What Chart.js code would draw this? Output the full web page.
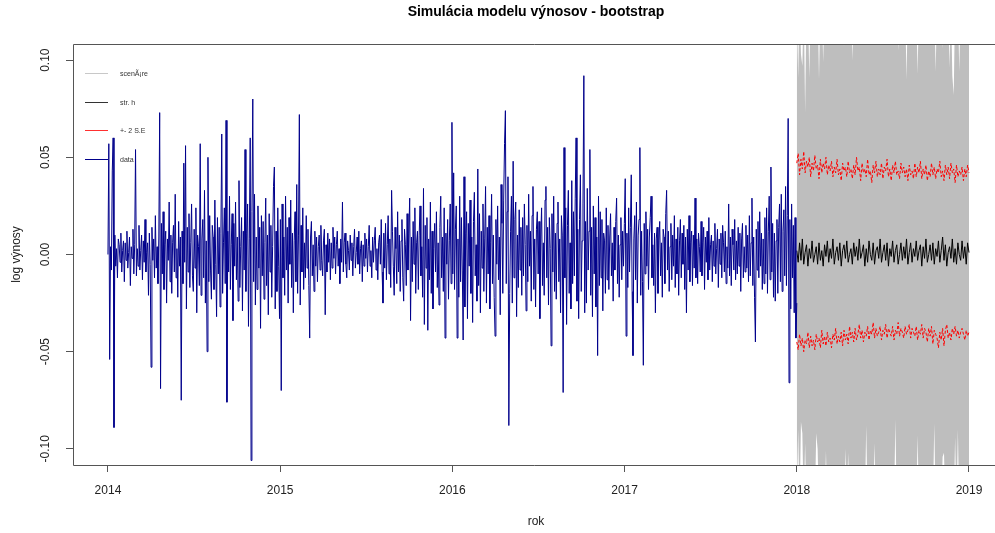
<!DOCTYPE html>
<html>
<head>
<meta charset="utf-8">
<script src="https://cdn.jsdelivr.net/npm/chart.js@4/dist/chart.umd.min.js"></script>
<style>
  html, body { margin: 0; padding: 0; background: #fff; }
</style>
</head>
<body>
<canvas id="chart" width="995" height="533"></canvas>
<script>
// daily log returns 2014-2017, in thousandths
const dataMilli = [
  0, 57, -54, 4, -8, 43, 60, -89, 10, -6, 3, -12, 8, 5, -4, 11, -9, 2, 7, -14,
  6, -3, 12, -7, 1, 9, -16, 4, -2, 13, -10, 5, 54, -11, 3, -6, 15, -8, 2, 10,
  -13, 7, -4, 18, -9, 1, 6, -21, 11, -5, -58, 14, -3, 8, -12, 20, -7, 4, -15, 9,
  73, -69, 16, -10, 22, -18, 5, 12, -25, 8, -3, 27, -14, 10, -20, 6, 15, -9, 31, -12,
  3, -22, 17, -6, 9, -75, 12, -15, 47, -4, 56, -28, 14, -9, 21, -17, 6, 26, -11, -19,
  13, -7, 24, -30, 10, 4, -16, 57, -21, 8, 18, -12, 33, -25, 7, -50, 50, -14, 20, -8,
  -23, 15, 9, -18, 28, -5, -32, 19, -10, 14, -27, 11, 62, -20, 6, 24, -15, 69, -76, 12,
  -9, 30, -18, 5, 21, -34, 16, -6, 27, -13, 9, -24, 38, -17, 4, 19, -29, 12, -8, 54,
  -19, 11, 26, -37, 8, 60, -106, 22, 80, -14, 31, -26, 9, -18, 25, -7, 14, -38, 20, -11,
  17, -23, 6, 29, -16, 10, -31, 21, -9, 15, -22, 4, 35, 45, -28, 12, -19, 24, -6, -33,
  18, -70, 26, -12, 9, -21, 30, -8, 14, -25, 19, -5, 28, -17, 11, -30, 7, 22, -14, 36,
  -20, 10, 72, -26, 15, -9, 24, -18, 6, -12, 20, -7, 13, -16, -43, 9, 17, -11, 5, -19,
  12, -6, 9, -14, 4, 10, -8, 15, -3, -11, 7, 13, -31, 5, -9, 11, -4, 8, -13, 6,
  -7, 14, -2, 9, -10, 5, 12, -6, 3, -15, 8, -4, 27, -9, 6, 11, -5, -12, 7, 2,
  -8, 10, -3, 6, -11, 4, 13, -7, 1, 9, -5, 12, -10, 3, 7, -14, 5, -6, 11, -2,
  8, -9, 4, 15, -6, 2, -12, 9, -4, 7, 14, -8, 3, -13, 6, 10, -5, 18, -9, -25,
  11, -7, 16, -13, 5, 20, -10, 8, -17, 33, 12, -6, -21, 14, 3, -15, 22, -9, 10, -19,
  7, 18, -12, -24, 13, 5, -16, 21, -8, 11, 29, -34, 9, -14, 17, -5, 24, -20, 6, 12,
  -18, 10, 25, -11, 4, -22, 34, -36, 15, -7, 19, -39, 8, -13, 27, -20, 12, -28, 3, 16,
  -9, 22, -17, 6, -26, 14, 30, -12, 9, -19, 24, -43, 11, -5, 18, -23, 7, 26, -15, 68,
  -10, 42, -18, 13, 25, -43, 8, -22, 30, -14, 19, -8, -44, 40, -27, 11, 22, -33, 16, -6,
  28, -20, 9, -35, 17, 32, -11, 5, -24, 44, -16, 21, -30, 12, -7, 26, -19, 8, 35, -25,
  14, -10, 20, -28, 6, 31, -15, 10, -22, -42, 18, -5, 25, -13, 9, -31, 36, 16, -20, 28,
  57, 74, -15, 22, 40, -88, -20, 12, 30, -25, 48, -12, 18, 27, -32, 10, -17, 23, -8, 14,
  -21, 19, -11, 26, 5, -29, 15, -14, 31, -6, 12, -24, 20, 35, -18, 8, -27, 13, 22, -10,
  17, -33, 9, 24, -16, 6, -21, 28, 35, -12, 14, -26, 19, 3, -47, 21, -9, 30, -19, 11,
  -23, 16, 27, -14, 8, -30, 20, 10, -71, 55, -12, 24, -36, 15, 33, -20, 6, -28, 38, -15,
  22, -11, 29, 60, -24, 13, -33, 18, 41, -19, 7, 26, 92, -30, 17, -25, 34, -8, 12, 54,
  -21, 14, -32, 25, -10, 19, -27, 9, -52, 30, -16, 22, -12, 18, -29, 11, 7, -20, 24, -13,
  15, -18, 9, 21, -11, 6, -24, 14, -8, 17, 29, -15, 10, -22, 5, 19, -13, 12, -6, 16,
  39, -42, 11, -17, 24, -9, 14, 41, -19, -52, 8, 20, -13, 27, -25, 10, 18, 55, -21, 12,
  -14, -57, 16, -10, 22, -6, 13, -18, 9, 19, 30, -12, 5, -16, 11, -30, 8, 14, -20, 7,
  17, -11, 6, -22, 13, 9, -15, 21, 33, -8, 12, -19, 4, 16, -13, 10, -6, 20, -17, 8,
  -10, 14, -21, 7, 18, -12, 11, -5, 15, -18, 9, -30, 13, -8, 20, -14, 6, 12, -16, 10,
  -7, 29, -12, 8, -15, 11, 4, -9, 17, -11, 6, 14, -18, 9, -4, 12, -13, 19, -8, 5,
  10, -14, 7, -6, 16, -10, 3, 13, -17, 8, -5, 11, -12, 15, 6, -9, 12, -15, 4, -7,
  26, -11, 9, -16, 13, 5, -8, 18, -13, 7, -10, 14, -6, 11, -19, 8, 16, -12, 4, -9,
  15, -7, 10, -14, 20, -11, 6, 29, -16, 9, -22, -45, 13, -8, 17, -12, 22, -6, 11, -18,
  8, -15, 19, -10, 24, -20, 12, 30, -13, 45, -9, 16, -22, 11, -24, 7, 18, -20, 14, 26,
  -14, 31, -19, 12, 23, -11, 35, -16, 20, 70, -66, 18, -28, 26, -12, 15, -30, 19, -43, -25
]

// 2018 simulation: mean path (str. h) and +- 2 S.E bands, in thousandths
const meanMilli = [
  2, -4, 6, -3, 8, -5, 1, 5, -6, 3, -2, 7, -4, 0, 4, -5, 6, -3, 2, -6,
  5, -1, 7, -4, 3, -2, 8, -5, 1, 4, -3, 6, -6, 2, 5, -2, 7, -4, 0, 3,
  -5, 6, -1, 4, -3, 8, -2, 1, 5, -6, 3, -4, 7, 0, -3, 6, -5, 2, 4, -2,
  8, -4, 1, 5, -3, 6, -6, 3, -1, 7, -4, 2, 5, -5, 0, 6, -3, 4, -2, 8,
  -5, 1, 6, -4, 3, -1, 7, -3, 2, 5, -6, 4, -2, 8, -4, 0, 5, -3, 6, -5,
  3, -1, 7, -4, 2, 9, -3, 5, -6, 1, 4, -2, 8, -4, 3, -5, 6, 0, -3, 7,
  -2, 4, -5, 6, 1
]
const upperSeMilli = [
  47, 52, 41, 49, 44, 53, 42, 48, 45, 50, 40, 47, 43, 51, 44, 46, 39, 49, 42, 47,
  44, 50, 41, 46, 43, 48, 40, 45, 42, 49, 41, 44, 38, 47, 43, 45, 40, 48, 42, 44,
  39, 46, 41, 50, 43, 45, 38, 47, 42, 44, 40, 49, 41, 43, 37, 46, 42, 48, 40, 44,
  41, 47, 39, 45, 43, 49, 40, 44, 38, 46, 42, 48, 41, 43, 39, 47, 42, 45, 40, 44,
  38, 46, 41, 43, 39, 47, 40, 45, 42, 48, 39, 44, 41, 46, 38, 43, 40, 47, 41, 45,
  39, 44, 42, 48, 40, 43, 38, 46, 41, 45, 39, 47, 42, 44, 37, 46, 40, 43, 41, 45,
  38, 44, 40, 46, 42
]
const lowerSeMilli = [
  -45, -49, -41, -47, -43, -50, -44, -46, -40, -48, -42, -47, -44, -49, -41, -45, -43, -48, -39, -46,
  -42, -47, -40, -45, -43, -48, -41, -44, -38, -46, -42, -45, -40, -47, -39, -44, -41, -46, -37, -43,
  -40, -45, -38, -44, -41, -36, -43, -39, -45, -40, -42, -37, -44, -39, -41, -35, -43, -38, -42, -40,
  -37, -44, -39, -41, -36, -43, -38, -40, -42, -37, -44, -39, -41, -35, -42, -38, -40, -43, -37, -41,
  -39, -36, -43, -38, -40, -42, -37, -44, -39, -41, -36, -43, -38, -40, -45, -38, -42, -37, -46, -39,
  -41, -43, -48, -40, -44, -38, -47, -39, -36, -43, -40, -44, -38, -41, -37, -42, -39, -43, -40, -38,
  -41, -44, -39, -42, -40
]

// highest and lowest of the bootstrap scenarios on each step
const scenMaxMilli = [
  130, 91, 130, 103, 97, 130, 73, 130, 130, 91, 130, 130, 130, 130, 130, 130, 90, 130, 130, 99,
  130, 130, 130, 130, 130, 130, 130, 130, 130, 130, 130, 130, 130, 130, 107, 130, 130, 130, 130, 130,
  100, 130, 130, 130, 130, 130, 130, 130, 130, 130, 130, 130, 130, 130, 130, 130, 130, 130, 130, 130,
  130, 130, 130, 130, 130, 130, 130, 130, 130, 130, 130, 130, 130, 105, 130, 130, 130, 130, 130, 90,
  130, 130, 130, 130, 130, 130, 130, 93, 130, 130, 130, 130, 130, 130, 130, 130, 130, 130, 130, 130,
  94, 130, 130, 130, 130, 106, 130, 130, 130, 130, 96, 130, 92, 82, 130, 130, 130, 94, 130, 130,
  130, 130, 130, 130, 130
]
const scenMinMilli = [
  -130, -90, -130, -86, -92, -130, -97, -130, -130, -130, -130, -130, -130, -130, -92, -100, -130, -130, -130, -130,
  -130, -101, -130, -130, -130, -130, -130, -130, -130, -130, -130, -130, -130, -130, -130, -100, -130, -102, -130, -130,
  -130, -130, -130, -130, -130, -130, -130, -130, -130, -130, -88, -130, -130, -130, -130, -130, -97, -130, -130, -130,
  -130, -130, -130, -130, -130, -130, -130, -130, -130, -130, -130, -85, -130, -130, -130, -130, -130, -130, -130, -130,
  -130, -130, -130, -130, -130, -130, -130, -93, -130, -130, -130, -130, -130, -130, -130, -130, -130, -130, -130, -87,
  -130, -130, -130, -130, -130, -104, -102, -130, -130, -130, -130, -130, -130, -130, -94, -130, -90, -130, -130, -130,
  -130, -130, -130, -130, -130
]

const yearTicks = [2014, 2015, 2016, 2017, 2018, 2019]
const yTicks = [-0.10, -0.05, 0.00, 0.05, 0.10]
const legendLabels = ['scenÃ¡re', 'str. h', '+- 2 S.E', 'data']

const font = 'Liberation Sans, Arial, sans-serif'

// spread each series evenly over its period
function series(values, from, to) {
  const n = values.length
  return values.map((v, i) => ({ x: from + (to - from) * i / (n - 1), y: v / 1000 }))
}

const decor = {
  id: 'decor',
  afterDatasetsDraw(chart) {
    const ctx = chart.ctx
    // legend, no box
    const colours = ['#C8C8C8', '#333333', '#FF3030', '#00008B']
    const rows = [73, 102, 130, 159]
    ctx.save()
    ctx.font = '7px ' + font
    ctx.textBaseline = 'middle'
    legendLabels.forEach((label, i) => {
      ctx.strokeStyle = colours[i]
      ctx.lineWidth = 1
      ctx.beginPath()
      ctx.moveTo(85, rows[i] + 0.5)
      ctx.lineTo(108, rows[i] + 0.5)
      ctx.stroke()
      ctx.fillStyle = '#333'
      ctx.fillText(label, 120, rows[i] + 1)
    })
    ctx.restore()
  },
  afterDraw(chart) {
    const ctx = chart.ctx
    const a = chart.chartArea
    const y = chart.scales.y
    ctx.save()
    // plot box (right side runs off the page)
    ctx.strokeStyle = '#555'
    ctx.lineWidth = 1
    ctx.beginPath()
    ctx.moveTo(a.right, a.top + 0.5)
    ctx.lineTo(a.left + 0.5, a.top + 0.5)
    ctx.lineTo(a.left + 0.5, a.bottom + 0.5)
    ctx.lineTo(a.right, a.bottom + 0.5)
    ctx.stroke()

    ctx.fillStyle = '#000'
    ctx.textAlign = 'center'
    ctx.textBaseline = 'middle'
    ctx.font = 'bold 14px ' + font
    ctx.fillText('Simulácia modelu výnosov - bootstrap', 536, 12)

    ctx.fillStyle = '#222'
    ctx.font = '12px ' + font
    ctx.fillText('rok', 536, 522)

    // vertical texts on the left
    yTicks.forEach(v => {
      ctx.save()
      ctx.translate(46, y.getPixelForValue(v))
      ctx.rotate(-Math.PI / 2)
      ctx.fillText(v.toFixed(2), 0, 0)
      ctx.restore()
    })
    ctx.save()
    ctx.translate(17, (a.top + a.bottom) / 2)
    ctx.rotate(-Math.PI / 2)
    ctx.fillText('log výnosy', 0, 0)
    ctx.restore()
    ctx.restore()
  }
}

const chartCanvas = document.getElementById('chart')
let simChart = new Chart(chartCanvas, {
  type: 'line',
  data: {
    datasets: [
      {
        label: 'data',
        data: series(dataMilli, 2014, 2018),
        borderColor: '#00008B',
        borderWidth: 1,
        order: 1
      },
      {
        label: 'str. h',
        data: series(meanMilli, 2018, 2019),
        borderColor: '#000000',
        borderWidth: 1,
        order: 2
      },
      {
        label: '+2 S.E',
        data: series(upperSeMilli, 2018, 2019),
        borderColor: '#FF0000',
        borderWidth: 1,
        borderDash: [3, 2],
        order: 3
      },
      {
        label: '-2 S.E',
        data: series(lowerSeMilli, 2018, 2019),
        borderColor: '#FF0000',
        borderWidth: 1,
        borderDash: [3, 2],
        order: 4
      },
      {
        label: 'scenáre max',
        data: series(scenMaxMilli, 2018, 2019),
        borderColor: 'rgba(0,0,0,0)',
        borderWidth: 0,
        backgroundColor: '#BEBEBE',
        fill: '+1',
        order: 5
      },
      {
        label: 'scenáre min',
        data: series(scenMinMilli, 2018, 2019),
        borderColor: 'rgba(0,0,0,0)',
        borderWidth: 0,
        order: 6
      }
    ]
  },
  options: {
    responsive: false,
    animation: false,
    events: [],
    elements: { point: { radius: 0 }, line: { tension: 0 } },
    layout: { padding: { top: 44, left: 0, right: 0, bottom: 0 } },
    plugins: {
      legend: { display: false },
      tooltip: { enabled: false },
      title: { display: false }
    },
    scales: {
      x: {
        type: 'linear',
        min: 2013.797,
        max: 2019.151,
        afterBuildTicks: s => { s.ticks = yearTicks.map(v => ({ value: v })) },
        afterFit: s => { s.height = 68 },
        border: { display: false },
        grid: { drawOnChartArea: false, drawTicks: true, tickLength: 7, tickColor: '#555' },
        ticks: {
          color: '#222',
          font: { family: font, size: 12 },
          padding: 11,
          maxRotation: 0,
          autoSkip: false,
          callback: v => String(v)
        }
      },
      y: {
        min: -0.1083,
        max: 0.1083,
        afterBuildTicks: s => { s.ticks = yTicks.map(v => ({ value: v })) },
        afterFit: s => { s.width = 73 },
        border: { display: false },
        grid: { drawOnChartArea: false, drawTicks: true, tickLength: 7, tickColor: '#555' },
        ticks: { color: 'rgba(0,0,0,0)', font: { size: 12 } }
      }
    }
  },
  plugins: [decor]
})
</script>
</body>
</html>
